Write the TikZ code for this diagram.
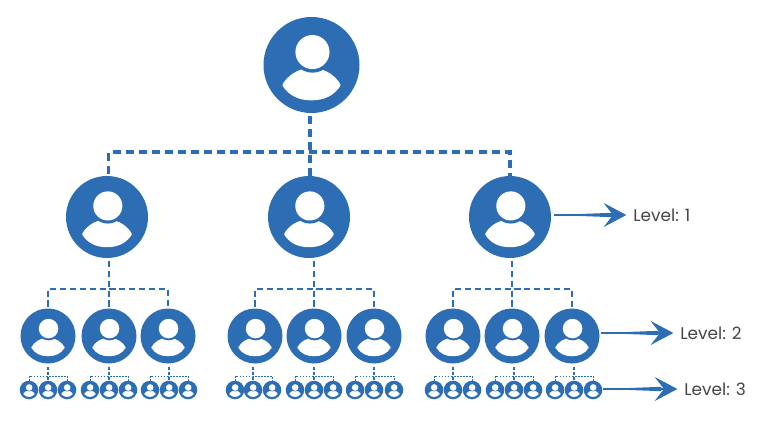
\documentclass[tikz,border=0pt]{standalone}
\usepackage{xcolor}
\usepackage{fontspec}
\setmainfont{Poppins}
\usetikzlibrary{arrows.meta}
\definecolor{orgblue}{HTML}{2C6DB4}
\definecolor{labelgray}{HTML}{444444}
\tikzset{
    person/.style={circle,fill=orgblue,inner sep=0,outer sep=0,minimum size=#1*1.5pt,
        path picture={
            \begin{scope}[shift={(path picture bounding box.center)},x={#1*0.75pt},y={-#1*0.75pt}]
                \filldraw[white,line join=round,line width=#1*0.04pt] (-0.58,0.42) .. controls (-0.5,0.27) and (-0.3,0.09) .. (0,0.09)
                    .. controls (0.3,0.09) and (0.5,0.27) .. (0.58,0.42)
                    .. controls (0.45,0.62) and (0.25,0.71) .. (0,0.71)
                    .. controls (-0.25,0.71) and (-0.45,0.62) .. (-0.58,0.42) -- cycle;
                \fill[orgblue] (0.02,-0.27) circle (0.43);
                \fill[white] (0.02,-0.27) circle (0.355);
            \end{scope}}},
    busone/.style={orgblue,line width=2.5pt,dash pattern=on 6pt off 3.8pt},
    bustwo/.style={orgblue,line width=2pt,dash pattern=on 4.6pt off 2.8pt},
    busthree/.style={orgblue,line width=0.6pt,dash pattern=on 1.3pt off 1pt},
    stemthree/.style={orgblue,line width=1.1pt,dash pattern=on 2.4pt off 1.6pt},
    levelarrow/.style={orgblue,line width=0.8pt,shorten >=5pt,-{Stealth[length=17pt,width=18pt,inset=7pt]}},
    levellabel/.style={anchor=west,inner sep=0,text=labelgray,font=\fontsize{12.7}{15}\selectfont}
}
\begin{document}
\begin{tikzpicture}[x=0.75pt,y=-0.75pt]
    \useasboundingbox (0,0) rectangle (767,424);
    \node[person=48] (top) at (311.5,65) {};
    \foreach \name/\x in {a/107,b/309,c/510}
        \node[person=41] (\name) at (\x,217) {};
    \foreach \name/\x in {aa/48,ab/109,ac/168,ba/255,bb/314,bc/374,ca/453,cb/512,cc/572}
        \node[person=27.5] (\name) at (\x,336) {};
    \foreach \name/\x in {aaa/29,aab/48,aac/67,aba/90,abb/109,abc/128,aca/150,acb/169,acc/188,
                          baa/235,bab/253,bac/272,bba/295,bbb/314,bbc/333,bca/355,bcb/374,bcc/394,
                          caa/434,cab/453,cac/472,cba/495,cbb/514,cbc/533,cca/555,ccb/574,ccc/593}
        \node[person=9.3] (\name) at (\x,390) {};
    \node[levellabel] (level1) at (633,215) {Level: 1};
    \node[levellabel] (level2) at (680,333) {Level: 2};
    \node[levellabel] (level3) at (684,389) {Level: 3};
    % first level
    \coordinate (bus) at (310,152);
    \draw[busone] (top.south -| bus) ++(0,3) -- (b.north -| bus);
    \draw[busone] (a.north) ++(1.5,-2) |- (bus) -| (c.north);
    % second level
    \foreach \p/\l/\m/\r in {a/aa/ab/ac,b/ba/bb/bc,c/ca/cb/cc} {
        \draw[bustwo] (\p.south -| \m) ++(0,3) -- (\m.north);
        \draw[bustwo] (\l.north) ++(0,-2) |- (\m |- 0,289) -| (\r.north);
    }
    % third level
    \foreach \p/\l/\m/\r in {aa/aaa/aab/aac,ab/aba/abb/abc,ac/aca/acb/acc,
                             ba/baa/bab/bac,bb/bba/bbb/bbc,bc/bca/bcb/bcc,
                             ca/caa/cab/cac,cb/cba/cbb/cbc,cc/cca/ccb/ccc} {
        \draw[stemthree] (\p.south -| \m) ++(0,3) -- (\m.north);
        \draw[busthree] (\l.north) |- (\m |- 0,376) -| (\r.north);
    }
    % level arrows, the shaft widens towards the tip
    \foreach \from/\to/\gap in {c/level1/3,cc/level2/1,ccc/level3/1} {
        \draw[levelarrow] (\from.east |- \to) ++(\gap,0) -- (\to.west);
        \fill[orgblue] (\from.east |- \to) ++(\gap,0) -- ++(58,-2.2) -- ++(0,4.4) -- cycle;
    }
\end{tikzpicture}
\end{document}
